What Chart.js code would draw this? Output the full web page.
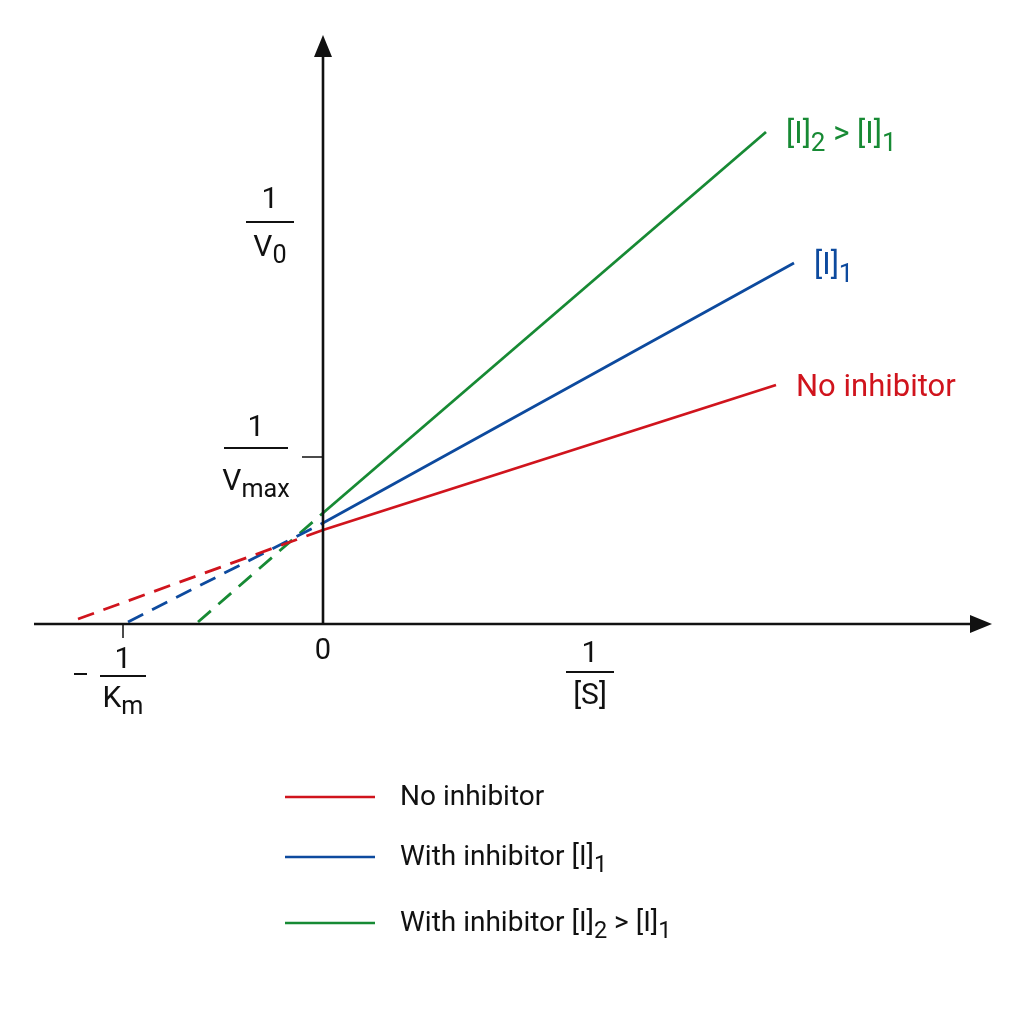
<!DOCTYPE html>
<html>
<head>
<meta charset="utf-8">
<title>Lineweaver-Burk</title>
<script src="https://cdn.jsdelivr.net/npm/chart.js@4.4.0/dist/chart.umd.min.js"></script>
<style>
	html, body { margin: 0; padding: 0; background: #fff; }
	#wrap { position: relative; width: 1024px; height: 1024px; }
</style>
</head>
<body>
<div id="wrap"><canvas id="chart"></canvas></div>
<script>
// :: 1.0 Data
// :: 2.0 Text helpers
// :: 3.0 Axes + labels plugin
// :: 4.0 Chart

// :: 1.0 Data
var seriesNames = ['No inhibitor', 'With inhibitor [I]1', 'With inhibitor [I]2 > [I]1'];
var seriesColors = ['#d0141d', '#0d4a9e', '#178a34'];

// x = 1/[S], y = 1/V0 (x-intercept, y-intercept, end of line)
var xNone = [-2.45, 0, 4.53];
var yNone = [0.05, 0.94, 2.39];
var xI1 = [-1.95, 0, 4.71];
var yI1 = [0.02, 1.01, 3.61];
var xI2 = [-1.25, 0, 4.43];
var yI2 = [0.02, 1.11, 4.92];

var xMin = -2.89, xMax = 6.69;
var yMin = 0, yMax = 5.89;

// tick positions
var xTickKm = -2.0;
var xLabelS = 2.67;
var yTickVmax = 1.67;
var yLabelV0 = 4.02;

var FONT = 'Roboto, "Open Sans", sans-serif';
var SUB = 0.84;

(function () {
	'use strict';

	function toPoints(xs, ys) {
		return xs.map(function (x, i) { return { x: x, y: ys[i] }; });
	}

	// :: 2.0 Text helpers
	// parts: [[text, isSub], ...]
	function partsWidth(ctx, parts, size) {
		var w = 0;
		parts.forEach(function (p) {
			ctx.font = (p[1] ? size * SUB : size) + 'px ' + FONT;
			w += ctx.measureText(p[0]).width;
		});
		return w;
	}

	function drawParts(ctx, parts, x, y, size, color, align) {
		var w = partsWidth(ctx, parts, size);
		var cx = align === 'center' ? x - w / 2 : x;
		ctx.fillStyle = color;
		ctx.textAlign = 'left';
		ctx.textBaseline = 'middle';
		parts.forEach(function (p) {
			var s = p[1] ? size * SUB : size;
			ctx.font = s + 'px ' + FONT;
			ctx.fillText(p[0], cx, p[1] ? y + size * 0.3 : y);
			cx += ctx.measureText(p[0]).width;
		});
	}

	function drawFraction(ctx, cx, numY, barY, denY, halfBar, den, size) {
		drawParts(ctx, [['1', false]], cx, numY, size, '#111', 'center');
		ctx.beginPath();
		ctx.moveTo(cx - halfBar, barY);
		ctx.lineTo(cx + halfBar, barY);
		ctx.lineWidth = 1.8;
		ctx.strokeStyle = '#111';
		ctx.stroke();
		drawParts(ctx, den, cx, denY, size, '#111', 'center');
	}

	// :: 3.0 Axes + labels plugin
	var axesPlugin = {
		id: 'axesPlugin',
		afterDatasetsDraw: function (chart) {
			var ctx = chart.ctx;
			var xs = chart.scales.x, ys = chart.scales.y;
			var x0 = xs.getPixelForValue(0);
			var y0 = ys.getPixelForValue(0);
			var left = xs.getPixelForValue(xMin);
			var right = xs.getPixelForValue(xMax);
			var top = ys.getPixelForValue(yMax);

			ctx.save();
			ctx.strokeStyle = '#111';
			ctx.fillStyle = '#111';
			ctx.lineWidth = 2.6;

			// x axis + arrow
			ctx.beginPath();
			ctx.moveTo(left, y0);
			ctx.lineTo(right - 12, y0);
			ctx.stroke();
			ctx.beginPath();
			ctx.moveTo(right, y0);
			ctx.lineTo(right - 22, y0 - 9);
			ctx.lineTo(right - 22, y0 + 9);
			ctx.closePath();
			ctx.fill();

			// y axis + arrow
			ctx.beginPath();
			ctx.moveTo(x0, y0);
			ctx.lineTo(x0, top + 12);
			ctx.stroke();
			ctx.beginPath();
			ctx.moveTo(x0, top);
			ctx.lineTo(x0 - 9, top + 22);
			ctx.lineTo(x0 + 9, top + 22);
			ctx.closePath();
			ctx.fill();

			// tick marks
			var xk = xs.getPixelForValue(xTickKm);
			var yv = ys.getPixelForValue(yTickVmax);
			ctx.lineWidth = 1.5;
			ctx.beginPath();
			ctx.moveTo(xk, y0);
			ctx.lineTo(xk, y0 + 14);
			ctx.moveTo(x0 - 21, yv);
			ctx.lineTo(x0, yv);
			ctx.stroke();

			// axis labels
			drawParts(ctx, [['0', false]], x0, y0 + 28, 29, '#111', 'center');
			ctx.lineWidth = 2;
			ctx.beginPath();
			ctx.moveTo(xk - 49, y0 + 50);
			ctx.lineTo(xk - 36, y0 + 50);
			ctx.stroke();
			drawFraction(ctx, xk, y0 + 36, y0 + 52, y0 + 75, 23, [['K', false], ['m', true]], 30);
			var xsPx = xs.getPixelForValue(xLabelS);
			drawFraction(ctx, xsPx, y0 + 30, y0 + 48, y0 + 72, 24, [['[S]', false]], 30);
			var yvo = ys.getPixelForValue(yLabelV0);
			drawFraction(ctx, x0 - 53, yvo - 22, yvo, yvo + 26, 24, [['V', false], ['0', true]], 30);
			drawFraction(ctx, x0 - 67, yv - 29, yv - 9, yv + 25, 32, [['V', false], ['max', true]], 30);

			// line-end annotations
			var ends = [
				[xNone, yNone, [['No inhibitor', false]]],
				[xI1, yI1, [['[I]', false], ['1', true]]],
				[xI2, yI2, [['[I]', false], ['2', true], [' > [I]', false], ['1', true]]]
			];
			ends.forEach(function (e, i) {
				var n = e[0].length - 1;
				var px = xs.getPixelForValue(e[0][n]) + 20;
				var py = ys.getPixelForValue(e[1][n]) + 3;
				drawParts(ctx, e[2], px, py, 31, seriesColors[i], 'left');
			});

			// legend
			var legendParts = [
				[['No inhibitor', false]],
				[['With inhibitor [I]', false], ['1', true]],
				[['With inhibitor [I]', false], ['2', true], [' > [I]', false], ['1', true]]
			];
			var legendY = [798, 858, 924];
			legendParts.forEach(function (parts, i) {
				ctx.beginPath();
				ctx.moveTo(285, legendY[i] - 1);
				ctx.lineTo(375, legendY[i] - 1);
				ctx.lineWidth = 2.6;
				ctx.strokeStyle = seriesColors[i];
				ctx.stroke();
				drawParts(ctx, parts, 400, legendY[i], 28, '#111', 'left');
			});

			ctx.restore();
		}
	};

	// :: 4.0 Chart
	var dashLeft = function (c) {
		return c.p1.parsed.x <= 0 ? [17, 10] : undefined;
	};

	var datasets = [[xNone, yNone], [xI1, yI1], [xI2, yI2]].map(function (s, i) {
		return {
			label: seriesNames[i],
			data: toPoints(s[0], s[1]),
			borderColor: seriesColors[i],
			backgroundColor: seriesColors[i],
			borderWidth: 2.8,
			pointRadius: 0,
			tension: 0,
			segment: { borderDash: dashLeft }
		};
	});

	new Chart(document.getElementById('chart').getContext('2d'), {
		type: 'line',
		data: { datasets: datasets },
		options: {
			responsive: true,
			maintainAspectRatio: false,
			animation: false,
			layout: { padding: { left: 34, right: 32, top: 35, bottom: 400 } },
			scales: {
				x: { type: 'linear', min: xMin, max: xMax, display: false },
				y: { type: 'linear', min: yMin, max: yMax, display: false }
			},
			plugins: {
				legend: { display: false },
				tooltip: { enabled: false }
			}
		},
		plugins: [axesPlugin]
	});
}());
</script>
</body>
</html>
